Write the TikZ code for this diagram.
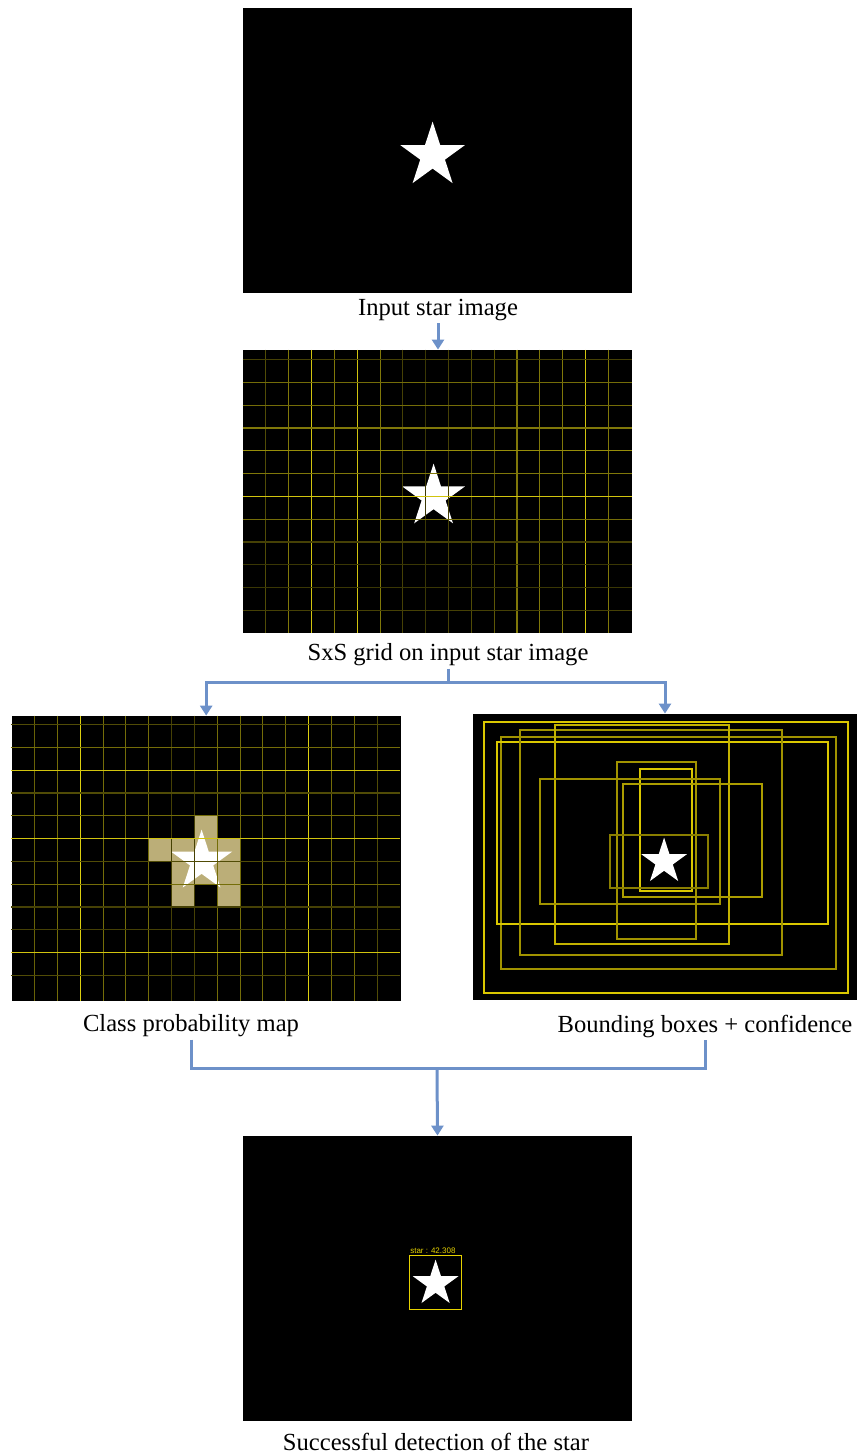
\documentclass[tikz,border=0pt]{standalone}
\usepackage{fontspec}
\setmainfont{Liberation Serif}
\newfontfamily\tagfont{Liberation Sans}
\usepackage{tikz}
\usetikzlibrary{positioning, arrows.meta, shapes.geometric}
\definecolor{flow-blue}{HTML}{6D91C9}
\definecolor{grid-yellow}{HTML}{E8DA10}
\definecolor{cell-tan}{HTML}{BBAE78}
\definecolor{box-yellow}{HTML}{E6D200}

\begin{document}
\begin{tikzpicture}[x=0.5pt, y=-0.5pt,
    photo/.style={fill=black, inner sep=0, minimum width=194.5pt, minimum height=142.5pt},
    imglabel/.style={font=\fontsize{12.3}{14}\selectfont, inner sep=1pt},
    arr/.style={-{Triangle[width=6pt,length=5pt]}, line width=1.5pt, flow-blue},
    link/.style={line width=1.5pt, flow-blue},
    starmark/.style={star, star points=5, star point ratio=2.618, fill=white, inner sep=0, minimum size=#1},
    gline/.style={color=grid-yellow!#1!black, line width=0.55pt},
    bbox/.style={color=box-yellow!#1!black, line width=1pt},
]
    \useasboundingbox (0,0) rectangle (857,1453);

    % Input image
    \node[photo] (img1) at (437.5,150.5) {};
    \node[starmark=34pt] (star1) at ([shift={(190,148)}]img1.north west) {};
    \node[imglabel] (lab1) at (438,310) {Input star image};

    % Grid over the image
    \node[photo, minimum height=141.5pt] (img2) at (437.5,491.5) {};
    \node[imglabel] (lab2) at (448,655) {SxS grid on input star image};
    \begin{scope}[shift={(img2.north west)}]
        \node[starmark=33pt] (star2) at (191,147) {};
        \foreach \k/\o in {0/35,1/55,2/90,3/55,4/90,5/55,6/30,7/25,8/30,9/35,10/40,11/55,12/55,13/55,14/90,15/55}
            \draw[gline=\o] ({23.3+22.83*\k},0) -- ++(0,283);
        \foreach \j/\o in {0/30,1/50,2/50,3/55,4/65,5/55,6/90,7/50,8/30,9/25,10/25,11/30}
            \draw[gline=\o] (0,{10+22.8*\j}) -- ++(389,0);
    \end{scope}

    % Class probabilities
    \node[photo] (img3) at (206.2,858.5) {};
    \node[imglabel] (lab3) at (191,1026) {Class probability map};
    \begin{scope}[shift={(img3.north west)}]
        \foreach \c/\r/\w in {7/4/1, 5/5/4, 6/6/3, 6/7/1, 8/7/1}
            \fill[cell-tan] ({23.3+22.83*\c},{9+22.8*\r}) rectangle ++({22.83*\w},22.8);
        \node[starmark=32pt] (star3) at (190.3,146) {};
        \foreach \k/\o in {0/45,1/50,2/95,3/50,4/50,5/50,6/30,7/30,8/50,9/50,10/50,11/50,12/95,13/50,14/50,15/35}
            \draw[gline=\o] ({23.3+22.83*\k},0) -- ++(0,285);
        \foreach \j/\o in {0/35,1/50,2/90,3/35,4/50,5/90,6/35,7/50,8/30,9/30,10/90,11/35}
            \draw[gline=\o] (0,{9+22.8*\j}) -- ++(389,0);
    \end{scope}

    % Candidate boxes
    \node[photo, minimum width=192pt, minimum height=143pt] (img4) at (665,857) {};
    \node[imglabel] (lab4) at (705,1026) {Bounding boxes + confidence};
    \begin{scope}[shift={(img4.north west)}]
        \foreach \a/\b/\c/\d/\o in {11.3/8.3/375.7/279/95, 28.7/23.7/363.3/255.3/70,
                24.3/28.7/355.7/210/95, 47/16/309/241.7/70, 82.7/11.3/256.3/230.7/85,
                144.7/48.3/223/225/70, 167.3/55.3/219.3/177.7/95, 67.7/65.7/247.7/190/70,
                150/70/289.3/183.3/75, 137/121.7/235/174.3/60}
            \draw[bbox=\o] (\a,\b) rectangle (\c,\d);
        \node[starmark=24pt] (star4) at (191.5,148) {};
    \end{scope}

    % Final detection
    \node[photo] (img5) at (437.5,1278.5) {};
    \node[imglabel] (lab5) at (436,1442) {Successful detection of the star};
    \begin{scope}[shift={(img5.north west)}]
        \node[starmark=24pt] (star5) at (193,148) {};
        \node[draw=box-yellow, line width=0.7pt, inner sep=0, minimum width=26pt, minimum height=27pt] (hit) at (193,147) {};
        \node[anchor=south west, inner sep=0.5pt, text=box-yellow, font=\tagfont\fontsize{4}{4.5}\selectfont] (tag) at (hit.north west) {star : 42.308};
    \end{scope}

    % Arrows
    \draw[arr] (lab1.south) -- (lab1.south |- img2.north);
    \coordinate (split) at (448,682);
    \draw[link] (lab2.south) -- (split);
    \draw[arr] (split) -| (img3.north);
    \draw[arr] (split) -| (img4.north);
    \coordinate (join) at (437,1068);
    \draw[link] (lab3.south) |- (join) -| (lab4.south);
    \draw[arr] (join) -- (img5.north);

\end{tikzpicture}
\end{document}
